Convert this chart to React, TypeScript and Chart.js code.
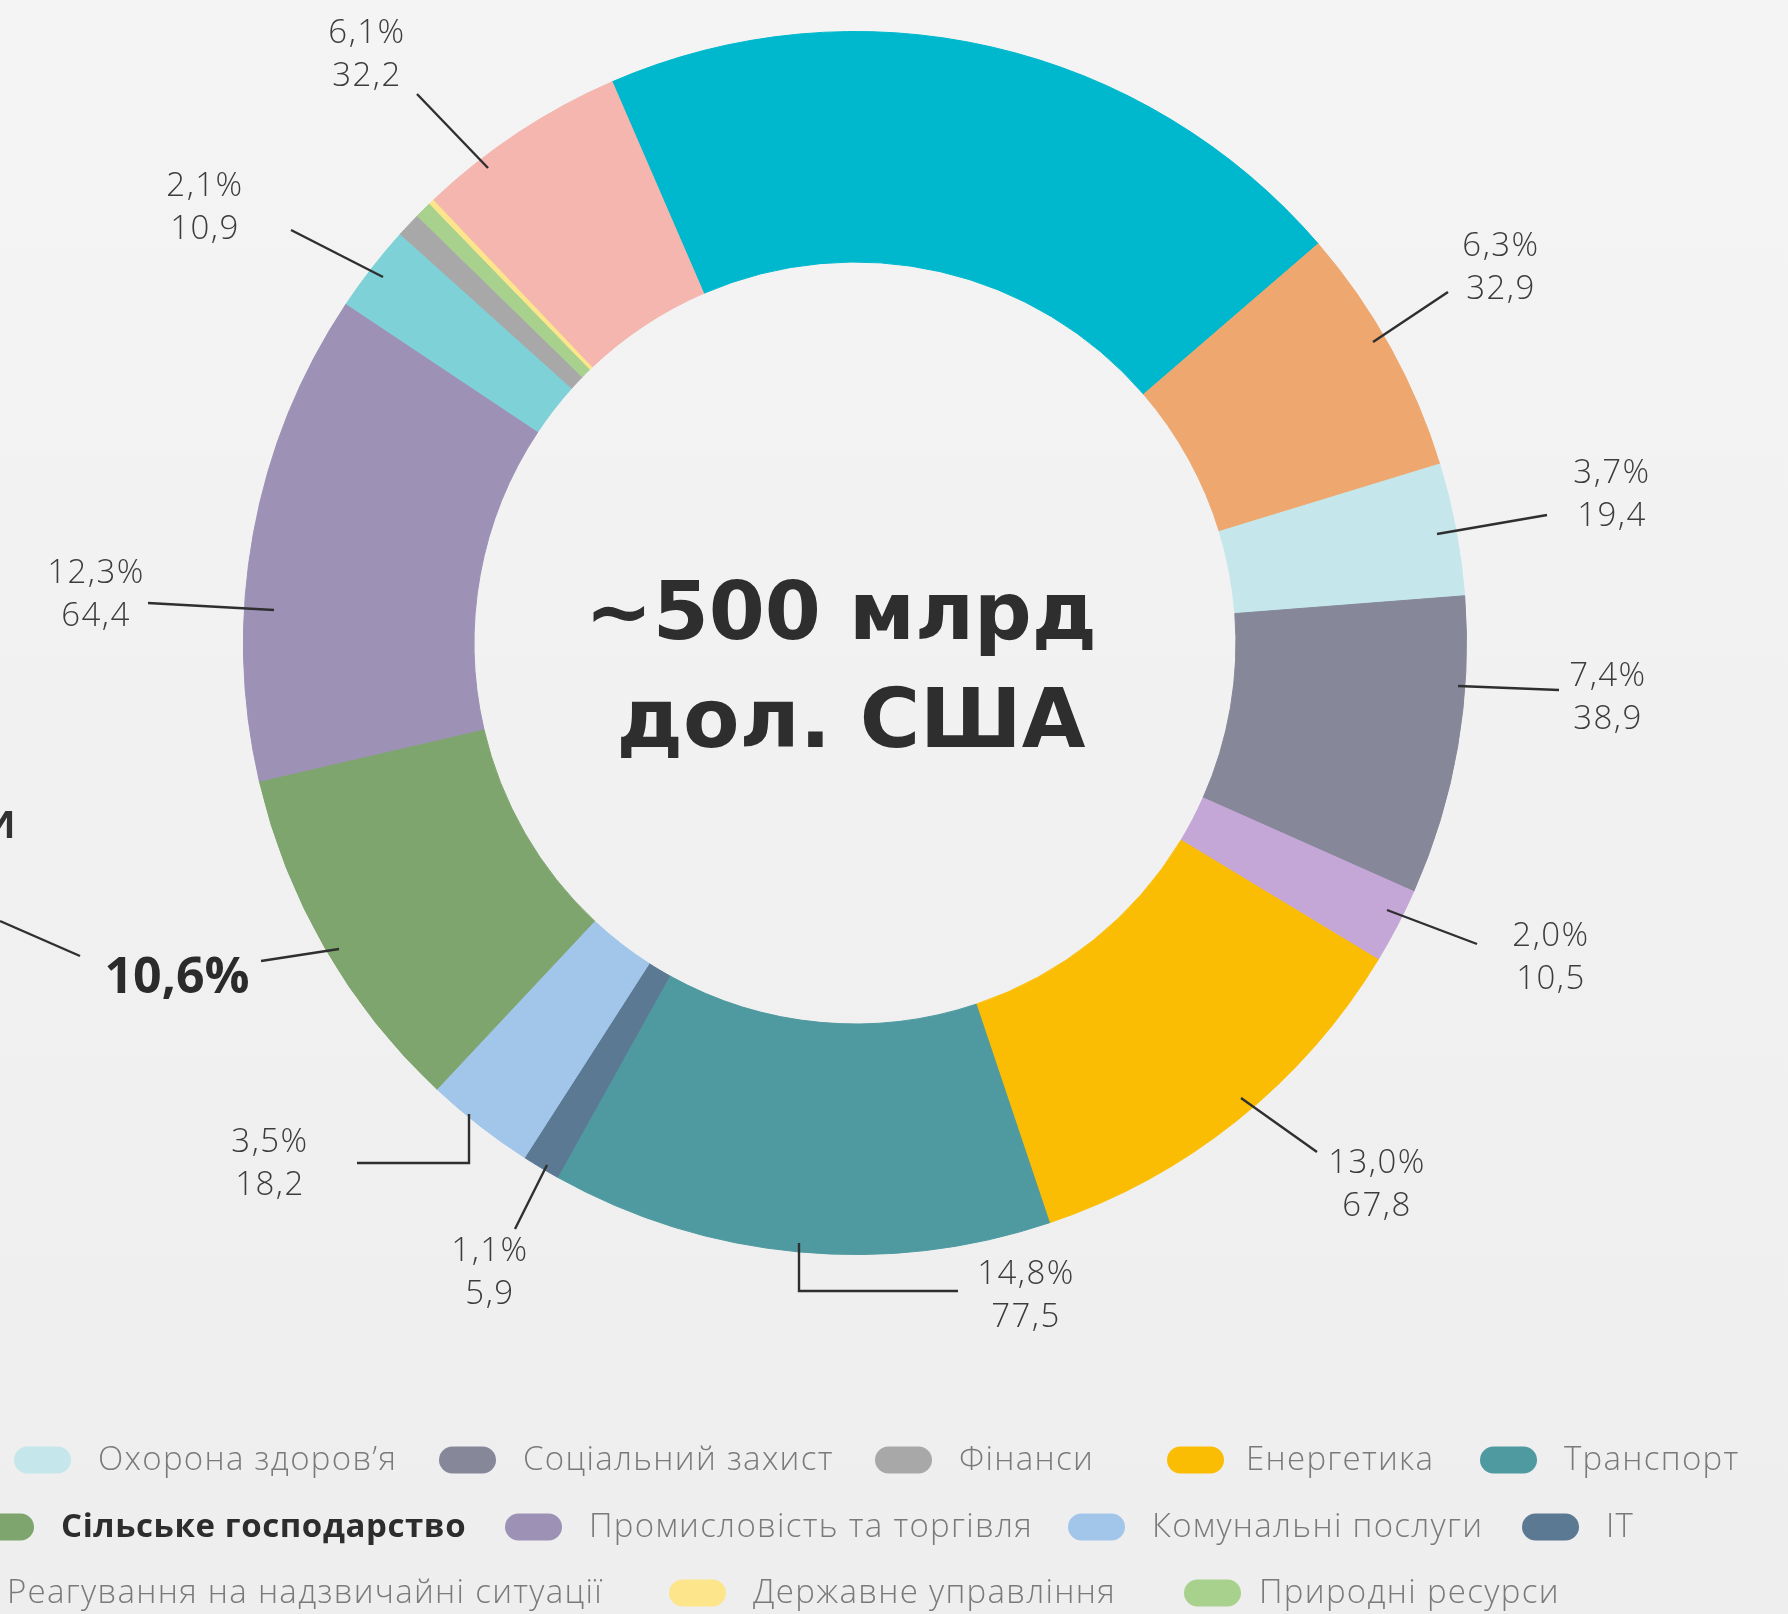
import { useEffect, useRef } from 'react';
import { Chart, registerables } from 'chart.js';

Chart.register(...registerables);

// ---- data ----
// Sector names (the first entries of the legend rows are cut off in the picture)
const categories = [
  'Житло',
  'Поводження з вибухонебезпечними предметами',
  'Охорона здоров’я',
  'Соціальний захист',
  'Культура і туризм',
  'Енергетика',
  'Транспорт',
  'IT',
  'Комунальні послуги',
  'Сільське господарство',
  'Промисловість та торгівля',
  'Реагування на надзвичайні ситуації',
  'Фінанси',
  'Природні ресурси',
  'Державне управління',
  'Освіта',
];

// Share of the ring each sector occupies, as drawn in the picture (%)
const arcShares = [20.2, 6.6, 3.5, 7.9, 2.0, 11.2, 13.25, 1.0, 2.9, 9.4, 13.0, 2.3, 0.65, 0.45, 0.15, 5.6];

// Printed labels: share of total and value, bn USD
const percentLabels = ['', '6,3%', '3,7%', '7,4%', '2,0%', '13,0%', '14,8%', '1,1%', '3,5%', '10,6%', '12,3%', '2,1%', '', '', '', '6,1%'];
const valueLabels = ['', '32,9', '19,4', '38,9', '10,5', '67,8', '77,5', '5,9', '18,2', '', '64,4', '10,9', '', '', '', '32,2'];

const colors = [
  '#00b8cd', '#eea86f', '#c5e7eb', '#868899', '#c4a6d7', '#fbbd03', '#4f9aa0', '#5c7994',
  '#a2c6ea', '#7fa56f', '#9d91b6', '#7fd1d8', '#a8a8a8', '#a9d18e', '#fde58c', '#f4b6af',
];

const centerLines = ['~500 млрд', 'дол. США'];

// ---- layout of annotations (positions only) ----
type Lbl = { i: number; x: number; y: number; pts: number[][]; bold?: boolean };
const labelLayout: Lbl[] = [
  { i: 15, x: 367, y: 32, pts: [[417, 94], [488, 168]] },
  { i: 11, x: 205, y: 185, pts: [[291, 230], [383, 277]] },
  { i: 10, x: 96, y: 572, pts: [[148, 603], [274, 610]] },
  { i: 9, x: 177, y: 975, pts: [[261, 961], [339, 949]], bold: true },
  { i: 1, x: 1501, y: 245, pts: [[1373, 342], [1448, 292]] },
  { i: 2, x: 1612, y: 472, pts: [[1437, 534], [1547, 515]] },
  { i: 3, x: 1608, y: 675, pts: [[1458, 686], [1559, 690]] },
  { i: 4, x: 1551, y: 935, pts: [[1387, 910], [1477, 944]] },
  { i: 5, x: 1377, y: 1162, pts: [[1241, 1098], [1317, 1152]] },
  { i: 6, x: 1026, y: 1273, pts: [[799, 1243], [799, 1291], [958, 1291]] },
  { i: 7, x: 490, y: 1250, pts: [[547, 1165], [515, 1229]] },
  { i: 8, x: 270, y: 1141, pts: [[469, 1114], [469, 1163], [357, 1163]] },
];

const legendRows = [
  { y: 1460, items: [{ i: 2, x: 14 }, { i: 3, x: 439 }, { i: 12, x: 875 }, { i: 5, x: 1167, gap: 22 }, { i: 6, x: 1480 }] },
  { y: 1527, items: [{ i: 9, x: -23, bold: true }, { i: 10, x: 505 }, { i: 8, x: 1068 }, { i: 7, x: 1522 }] },
  { y: 1593, items: [{ i: 11, x: -77 }, { i: 14, x: 669 }, { i: 13, x: 1184, gap: 18 }] },
];

const LIGHT = '300 33px "Open Sans", "Noto Sans", sans-serif';

const overlay = {
  id: 'overlay',
  beforeDraw(chart: any) {
    const { ctx, width, height } = chart;
    ctx.save();
    const g = ctx.createLinearGradient(0, 0, 0, height);
    g.addColorStop(0, '#f4f4f4');
    g.addColorStop(1, '#eeeeee');
    ctx.fillStyle = g;
    ctx.fillRect(0, 0, width, height);
    ctx.restore();
  },
  afterDraw(chart: any) {
    const { ctx } = chart;
    ctx.save();

    // leader lines
    ctx.strokeStyle = '#2f2f2f';
    ctx.lineWidth = 2.4;
    ctx.lineCap = 'butt';
    ctx.lineJoin = 'miter';
    const poly = (pts: number[][]) => {
      ctx.beginPath();
      pts.forEach(([x, y], k) => (k ? ctx.lineTo(x, y) : ctx.moveTo(x, y)));
      ctx.stroke();
    };
    labelLayout.forEach((l) => poly(l.pts));
    poly([[0, 921], [80, 956]]);

    // slice labels
    ctx.textAlign = 'center';
    ctx.textBaseline = 'alphabetic';
    labelLayout.forEach((l) => {
      if (l.bold) {
        ctx.letterSpacing = '0px';
        ctx.fillStyle = '#2b2b2b';
        ctx.font = '700 50px "Open Sans", "DejaVu Sans", sans-serif';
        ctx.fillText(percentLabels[l.i], l.x, l.y + 18);
      } else {
        ctx.letterSpacing = '1.5px';
        ctx.fillStyle = '#3c3c3c';
        ctx.font = LIGHT;
        ctx.fillText(percentLabels[l.i], l.x, l.y + 11);
        ctx.fillText(valueLabels[l.i], l.x, l.y + 54);
      }
    });
    ctx.letterSpacing = '0px';

    // cut-off word on the left edge
    ctx.fillStyle = '#333333';
    ctx.font = '600 48px "Open Sans", sans-serif';
    ctx.textAlign = 'right';
    ctx.fillText('и', 16, 838);

    // center text
    ctx.textAlign = 'center';
    ctx.fillStyle = '#2e2e2e';
    const fit = (t: string, w: number) => {
      ctx.font = '700 100px "DejaVu Sans", sans-serif';
      const m = ctx.measureText(t).width;
      return Math.min(100 * w / m, 92);
    };
    const s1 = fit(centerLines[0], 512);
    ctx.font = `700 ${s1}px "DejaVu Sans", sans-serif`;
    ctx.fillText(centerLines[0], 841, 639);
    const s2 = fit(centerLines[1], 469);
    ctx.font = `700 ${s2}px "DejaVu Sans", sans-serif`;
    ctx.fillText(centerLines[1], 851, 747);

    // legend
    ctx.textAlign = 'left';
    ctx.textBaseline = 'middle';
    const sw = 57, sh = 27;
    legendRows.forEach((row) => {
      row.items.forEach((it: any) => {
        ctx.fillStyle = colors[it.i];
        ctx.beginPath();
        (ctx as any).roundRect(it.x, row.y - sh / 2, sw, sh, sh / 2);
        ctx.fill();
        if (it.bold) {
          ctx.fillStyle = '#2d2d2d';
          ctx.font = '700 33px "Open Sans", sans-serif';
          ctx.letterSpacing = '0.6px';
        } else {
          ctx.fillStyle = '#7a7a7a';
          ctx.font = LIGHT;
          ctx.letterSpacing = '1.3px';
        }
        ctx.fillText(categories[it.i], it.x + sw + (it.gap ?? 27), row.y + 1);
      });
    });
    ctx.letterSpacing = '0px';

    ctx.restore();
  },
};

export default function App() {
  const ref = useRef<HTMLCanvasElement>(null);
  useEffect(() => {
    document.body.style.margin = '0';
    const canvas = ref.current as HTMLCanvasElement;
    const chart = new Chart(canvas, {
      type: 'doughnut',
      data: {
        labels: categories,
        datasets: [
          {
            data: arcShares,
            backgroundColor: colors,
            borderColor: colors,
            borderWidth: 1,
            hoverOffset: 0,
          },
        ],
      },
      options: {
        responsive: false,
        animation: false,
        devicePixelRatio: 1,
        rotation: -23.4,
        cutout: '62.3%',
        events: [],
        layout: { padding: { left: 243, right: 321, top: 31, bottom: 359 } },
        plugins: { legend: { display: false }, tooltip: { enabled: false } },
      },
      plugins: [overlay],
    });
    return () => chart.destroy();
  }, []);
  return (
    <div style={{ position: 'absolute', left: 0, top: 0, width: 1788, height: 1614, overflow: 'hidden' }}>
      <canvas ref={ref} width={1788} height={1614} style={{ display: 'block', width: 1788, height: 1614 }} />
    </div>
  );
}
